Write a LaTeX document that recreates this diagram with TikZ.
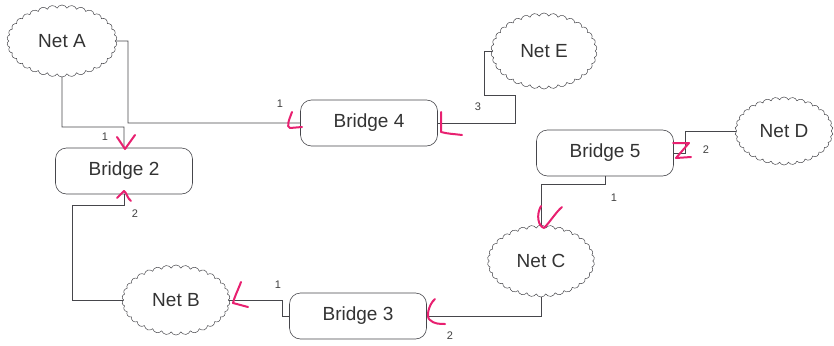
\documentclass[tikz,border=0pt]{standalone}
\usepackage{fontspec}
\setmainfont{Liberation Sans}
\usetikzlibrary{shapes.symbols}
\definecolor{ink}{RGB}{70,70,75}
\definecolor{pen}{RGB}{232,32,112}
\tikzset{
  bridge/.style={draw=ink, line width=0.6pt, rounded corners=11pt, fill=white,
    minimum width=137pt, minimum height=46pt, inner sep=0pt, font=\fontsize{19}{21}\selectfont, text=black!80},
  net/.style={cloud, cloud puffs=34, cloud puff arc=130, cloud ignores aspect, draw=ink, line width=0.5pt,
    inner sep=0pt, font=\fontsize{19}{21}\selectfont, text=black!80},
  conn/.style={draw=ink, line width=0.6pt},
  port/.style={font=\fontsize{11}{12}\selectfont, text=black!75, inner sep=0pt},
  tick/.style={draw=pen, line width=2pt, line cap=round, line join=round}
}
\begin{document}
\begin{tikzpicture}[x=1pt,y=-1pt]
\useasboundingbox (0,0) rectangle (834,345);
% clouds
\node[net, minimum width=110pt, minimum height=72pt] (netA) at (62,41) {Net A};
\node[net, minimum width=106pt, minimum height=76pt] (netE) at (544,51) {Net E};
\node[net, minimum width=98pt, minimum height=68pt] (netD) at (784,131) {Net D};
\node[net, minimum width=107pt, minimum height=72pt] (netC) at (541,261) {Net C};
\node[net, minimum width=108pt, minimum height=70pt] (netB) at (176,300) {Net B};
% bridges
\node[bridge] (b2) at (124,171) {Bridge 2};
\node[bridge] (b4) at (369,123) {Bridge 4};
\node[bridge] (b5) at (605,153) {Bridge 5};
\node[bridge] (b3) at (358,316) {Bridge 3};
% connectors
\draw[conn] (netA.south) -- (62,127) -| (b2.north);
\draw[conn] (netA.east) -- (128,41) |- (b4.west);
\draw[conn] (b4.east) -- (515,123) -- (515,95) -- (484,95) |- (netE.west);
\draw[conn] (b5.east) -- (685,153) |- (netD.west);
\draw[conn] (b5.south) -- (605,184) -| (netC.north);
\draw[conn] (netC.south) |- (b3.east);
\draw[conn] (b3.west) -- (282,316) |- (netB.east);
\draw[conn] (netB.west) -| (72,205) -| (b2.south);
% port labels
\node[port] (pA) at (105,137) {1};
\node[port] (pB) at (280,104) {1};
\node[port] (pC) at (478,107) {3};
\node[port] (pD) at (706,150) {2};
\node[port] (pE) at (614,198) {1};
\node[port] (pF) at (135,214) {2};
\node[port] (pG) at (278,285) {1};
\node[port] (pH) at (450,336) {2};
% hand-drawn marks
\draw[tick] (117,137) -- (125,149) -- (135,135);
\draw[tick] (117,198) -- (124,191) .. controls (127,193) and (127,198) .. (131,201);
\draw[tick] (292,112) .. controls (289,120) and (286,127) .. (290,128) -- (302,127);
\draw[tick] (441,112) -- (441,132) .. controls (448,134) and (455,134) .. (462,135);
\draw[tick] (673,143) -- (689,143) -- (676,158) -- (691,157);
\draw[tick] (541,206) .. controls (536,215) and (538,226) .. (544,228) .. controls (550,222) and (556,212) .. (562,207);
\draw[tick] (241,282) .. controls (238,290) and (234,298) .. (233,303) -- (248,307);
\draw[tick] (435,299) .. controls (428,305) and (426,318) .. (430,320) .. controls (434,324) and (440,324) .. (445,324);
\end{tikzpicture}
\end{document}
